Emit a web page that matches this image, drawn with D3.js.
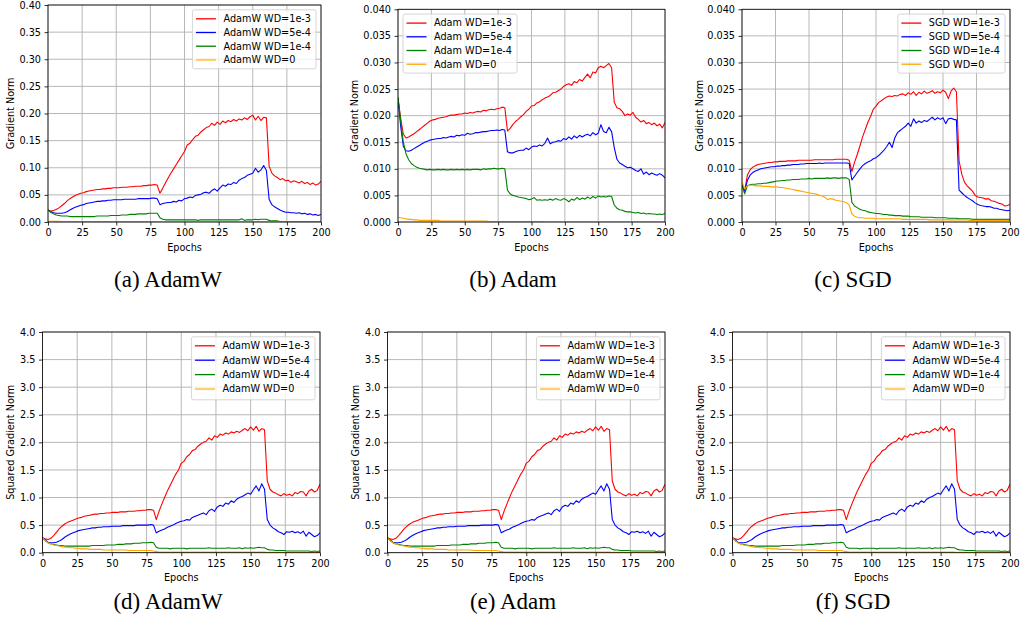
<!DOCTYPE html>
<html><head><meta charset="utf-8">
<script src="https://cdn.jsdelivr.net/npm/d3@7"></script>
<style>
body{margin:0;background:#fff;}
svg text{font-family:"DejaVu Sans",sans-serif;}
svg text.cap{font-family:"Liberation Serif","Times New Roman",serif;}
</style></head><body>
<svg id="chart" width="1021" height="628"></svg>
<script>
// ---------- categories / ticks ----------
const epochs = d3.range(0, 201, 2);
const xTicks = [0, 25, 50, 75, 100, 125, 150, 175, 200];
const gnTicksWide = [0, 0.05, 0.10, 0.15, 0.20, 0.25, 0.30, 0.35, 0.40];
const gnTicksFine = [0, 0.005, 0.010, 0.015, 0.020, 0.025, 0.030, 0.035, 0.040];
const sqTicks = [0, 0.5, 1.0, 1.5, 2.0, 2.5, 3.0, 3.5, 4.0];
const wdLabels = ["WD=1e-3", "WD=5e-4", "WD=1e-4", "WD=0"];
const seriesColors = ["red", "blue", "green", "orange"];
const captions = ["(a) AdamW", "(b) Adam", "(c) SGD", "(d) AdamW", "(e) Adam", "(f) SGD"];

// ---------- (a) AdamW gradient norm ----------
const adamwGN_1e3 = [0.022,0.020,0.021,0.023,0.026,0.030,0.034,0.039,0.043,0.046,
 0.049,0.051,0.053,0.054,0.056,0.057,0.058,0.059,0.060,0.060,
 0.061,0.061,0.062,0.062,0.063,0.063,0.063,0.064,0.064,0.064,
 0.065,0.065,0.066,0.066,0.066,0.067,0.067,0.068,0.068,0.069,
 0.068,0.053,0.062,0.072,0.081,0.090,0.098,0.106,0.114,0.122,
 0.130,0.142,0.145,0.152,0.158,0.160,0.166,0.170,0.174,0.176,
 0.182,0.178,0.184,0.180,0.186,0.183,0.187,0.185,0.189,0.186,
 0.190,0.188,0.192,0.189,0.194,0.197,0.188,0.195,0.187,0.193,
 0.192,0.103,0.090,0.085,0.082,0.078,0.080,0.076,0.077,0.073,
 0.076,0.074,0.072,0.075,0.071,0.073,0.069,0.072,0.068,0.070,
 0.075];
const adamwGN_5e4 = [0.022,0.019,0.017,0.016,0.016,0.016,0.017,0.019,0.022,0.025,
 0.027,0.029,0.031,0.032,0.034,0.035,0.036,0.037,0.038,0.038,
 0.039,0.039,0.040,0.040,0.041,0.041,0.041,0.041,0.042,0.042,
 0.042,0.042,0.042,0.043,0.043,0.043,0.043,0.043,0.044,0.044,
 0.043,0.032,0.034,0.035,0.036,0.036,0.038,0.037,0.040,0.039,
 0.043,0.044,0.046,0.045,0.049,0.050,0.051,0.054,0.055,0.053,
 0.058,0.061,0.057,0.063,0.068,0.066,0.070,0.069,0.073,0.071,
 0.077,0.080,0.082,0.086,0.088,0.090,0.099,0.092,0.096,0.104,
 0.095,0.042,0.032,0.028,0.025,0.022,0.020,0.018,0.018,0.017,
 0.017,0.016,0.017,0.015,0.016,0.014,0.015,0.013,0.014,0.012,
 0.014];
const adamwGN_1e4 = [0.022,0.018,0.015,0.013,0.012,0.011,0.011,0.011,0.010,0.010,
 0.010,0.010,0.010,0.010,0.010,0.010,0.010,0.010,0.011,0.011,
 0.011,0.011,0.011,0.012,0.012,0.012,0.012,0.013,0.013,0.013,
 0.014,0.014,0.014,0.015,0.015,0.015,0.015,0.016,0.016,0.016,
 0.016,0.008,0.005,0.004,0.004,0.004,0.004,0.004,0.004,0.004,
 0.004,0.004,0.004,0.004,0.004,0.003,0.004,0.004,0.004,0.004,
 0.004,0.004,0.004,0.004,0.004,0.004,0.004,0.004,0.004,0.004,
 0.004,0.006,0.003,0.004,0.004,0.004,0.005,0.004,0.005,0.005,
 0.005,0.003,0.002,0.002,0.002,0.001,0.001,0.001,0.001,0.001,
 0.001,0.001,0.001,0.001,0.001,0.001,0.001,0.001,0.001,0.001,
 0.001];
const adamwGN_0 = [0.0015,0.0014,0.0013,0.0012,0.0011,0.0010,0.0010,0.0009,0.0009,0.0009,
 0.0008,0.0008,0.0008,0.0008,0.0008,0.0008,0.0008,0.0008,0.0008,0.0008,
 0.0007,0.0007,0.0007,0.0007,0.0007,0.0007,0.0007,0.0007,0.0007,0.0007,
 0.0007,0.0007,0.0007,0.0007,0.0007,0.0007,0.0007,0.0007,0.0007,0.0007,
 0.0006,0.0005,0.0005,0.0005,0.0005,0.0005,0.0005,0.0005,0.0005,0.0005,
 0.0005,0.0005,0.0005,0.0005,0.0005,0.0005,0.0005,0.0005,0.0005,0.0005,
 0.0005,0.0005,0.0005,0.0005,0.0005,0.0005,0.0005,0.0005,0.0005,0.0005,
 0.0005,0.0005,0.0005,0.0005,0.0005,0.0005,0.0005,0.0005,0.0005,0.0005,
 0.0005,0.0004,0.0004,0.0004,0.0004,0.0004,0.0004,0.0004,0.0004,0.0004,
 0.0004,0.0004,0.0004,0.0004,0.0004,0.0004,0.0004,0.0004,0.0004,0.0004,
 0.0004];

// ---------- (b) Adam gradient norm ----------
const adamGN_1e3 = [0.0232,0.0195,0.0165,0.0158,0.0160,0.0163,0.0166,0.0170,0.0174,0.0178,
 0.0182,0.0186,0.0190,0.0192,0.0193,0.0195,0.0196,0.0197,0.0198,0.0200,
 0.0201,0.0201,0.0202,0.0203,0.0203,0.0205,0.0204,0.0206,0.0205,0.0207,
 0.0208,0.0207,0.0210,0.0209,0.0211,0.0212,0.0211,0.0213,0.0214,0.0216,
 0.0215,0.0171,0.0176,0.0183,0.0189,0.0193,0.0198,0.0202,0.0208,0.0212,
 0.0218,0.0219,0.0224,0.0226,0.0230,0.0233,0.0235,0.0238,0.0243,0.0244,
 0.0247,0.0250,0.0255,0.0258,0.0260,0.0257,0.0264,0.0262,0.0268,0.0265,
 0.0272,0.0278,0.0271,0.0282,0.0280,0.0290,0.0293,0.0290,0.0294,0.0298,
 0.0290,0.0225,0.0215,0.0213,0.0208,0.0200,0.0203,0.0201,0.0206,0.0197,
 0.0193,0.0188,0.0191,0.0185,0.0187,0.0183,0.0186,0.0181,0.0184,0.0177,
 0.0187];
const adamGN_5e4 = [0.0232,0.0180,0.0142,0.0134,0.0133,0.0135,0.0138,0.0141,0.0144,0.0147,
 0.0150,0.0152,0.0154,0.0155,0.0156,0.0157,0.0157,0.0159,0.0158,0.0160,
 0.0161,0.0160,0.0163,0.0162,0.0164,0.0163,0.0167,0.0165,0.0166,0.0168,
 0.0168,0.0169,0.0170,0.0170,0.0171,0.0172,0.0172,0.0173,0.0172,0.0174,
 0.0173,0.0132,0.0130,0.0130,0.0132,0.0134,0.0135,0.0135,0.0139,0.0136,
 0.0141,0.0143,0.0142,0.0145,0.0143,0.0148,0.0158,0.0147,0.0150,0.0151,
 0.0153,0.0152,0.0157,0.0155,0.0160,0.0156,0.0162,0.0158,0.0163,0.0160,
 0.0163,0.0165,0.0162,0.0168,0.0164,0.0167,0.0183,0.0170,0.0168,0.0178,
 0.0170,0.0140,0.0118,0.0111,0.0108,0.0105,0.0102,0.0103,0.0100,0.0097,
 0.0095,0.0100,0.0090,0.0094,0.0089,0.0092,0.0090,0.0088,0.0091,0.0088,
 0.0083];
const adamGN_1e4 = [0.0235,0.0190,0.0150,0.0128,0.0117,0.0110,0.0106,0.0103,0.0101,0.0100,
 0.0099,0.0098,0.0099,0.0098,0.0098,0.0099,0.0098,0.0099,0.0098,0.0098,
 0.0099,0.0098,0.0099,0.0098,0.0099,0.0098,0.0099,0.0098,0.0099,0.0099,
 0.0099,0.0098,0.0100,0.0099,0.0100,0.0100,0.0101,0.0100,0.0100,0.0101,
 0.0100,0.0060,0.0053,0.0050,0.0049,0.0047,0.0046,0.0045,0.0044,0.0042,
 0.0043,0.0046,0.0041,0.0042,0.0041,0.0042,0.0041,0.0043,0.0041,0.0044,
 0.0042,0.0041,0.0044,0.0042,0.0038,0.0043,0.0041,0.0046,0.0042,0.0045,
 0.0043,0.0047,0.0044,0.0048,0.0045,0.0049,0.0047,0.0048,0.0047,0.0049,
 0.0048,0.0032,0.0026,0.0023,0.0022,0.0020,0.0019,0.0019,0.0018,0.0017,
 0.0018,0.0016,0.0017,0.0015,0.0016,0.0015,0.0015,0.0014,0.0015,0.0014,
 0.0016];
const adamGN_0 = [0.0009,0.0008,0.0007,0.0006,0.0005,0.0005,0.0004,0.0004,0.0003,0.0003,
 0.0003,0.0003,0.0003,0.0003,0.0003,0.0003,0.0002,0.0002,0.0002,0.0002,
 0.0002,0.0002,0.0002,0.0002,0.0002,0.0002,0.0002,0.0002,0.0002,0.0002,
 0.0002,0.0002,0.0002,0.0002,0.0001,0.0001,0.0001,0.0001,0.0001,0.0001,
 0.0001,0.0001,0.0001,0.0001,0.0001,0.0001,0.0001,0.0001,0.0001,0.0001,
 0.0001,0.0001,0.0001,0.0001,0.0001,0.0000,0.0000,0.0000,0.0000,0.0000,
 0.0000,0.0000,0.0000,0.0000,0.0000,0.0000,0.0000,0.0000,0.0000,0.0000,
 0.0000,0.0000,0.0000,0.0000,0.0000,0.0000,0.0000,0.0000,0.0000,0.0000,
 0.0000,0.0000,0.0000,0.0000,0.0000,0.0000,0.0000,0.0000,0.0000,0.0000,
 0.0000,0.0000,0.0000,0.0000,0.0000,0.0000,0.0000,0.0000,0.0000,0.0000,
 0.0000];

// ---------- (c) SGD gradient norm ----------
const sgdGN_1e3 = [0.0070,0.0058,0.0088,0.0098,0.0103,0.0106,0.0108,0.0109,0.0110,0.0111,
 0.0112,0.0112,0.0113,0.0113,0.0114,0.0114,0.0114,0.0115,0.0115,0.0115,
 0.0115,0.0116,0.0116,0.0116,0.0116,0.0116,0.0116,0.0117,0.0117,0.0117,
 0.0117,0.0117,0.0117,0.0117,0.0117,0.0118,0.0118,0.0118,0.0118,0.0118,
 0.0116,0.0095,0.0112,0.0127,0.0143,0.0160,0.0174,0.0188,0.0199,0.0212,
 0.0218,0.0225,0.0228,0.0232,0.0235,0.0237,0.0236,0.0238,0.0237,0.0240,
 0.0241,0.0238,0.0243,0.0240,0.0245,0.0238,0.0244,0.0241,0.0246,0.0242,
 0.0244,0.0247,0.0242,0.0245,0.0243,0.0248,0.0244,0.0232,0.0246,0.0252,
 0.0245,0.0115,0.0090,0.0075,0.0068,0.0063,0.0058,0.0050,0.0047,0.0046,
 0.0045,0.0043,0.0044,0.0040,0.0039,0.0037,0.0035,0.0034,0.0030,0.0031,
 0.0033];
const sgdGN_5e4 = [0.0070,0.0058,0.0078,0.0088,0.0093,0.0096,0.0098,0.0100,0.0101,0.0102,
 0.0103,0.0104,0.0104,0.0105,0.0105,0.0106,0.0106,0.0107,0.0107,0.0108,
 0.0108,0.0108,0.0109,0.0109,0.0110,0.0110,0.0110,0.0110,0.0110,0.0111,
 0.0110,0.0111,0.0111,0.0111,0.0111,0.0111,0.0111,0.0111,0.0111,0.0111,
 0.0110,0.0079,0.0086,0.0093,0.0100,0.0106,0.0110,0.0113,0.0115,0.0119,
 0.0121,0.0125,0.0130,0.0135,0.0142,0.0150,0.0140,0.0158,0.0168,0.0172,
 0.0176,0.0180,0.0186,0.0180,0.0194,0.0186,0.0190,0.0187,0.0191,0.0189,
 0.0193,0.0197,0.0192,0.0196,0.0193,0.0196,0.0185,0.0194,0.0195,0.0193,
 0.0192,0.0060,0.0055,0.0050,0.0046,0.0043,0.0040,0.0036,0.0033,0.0031,
 0.0030,0.0029,0.0029,0.0028,0.0026,0.0026,0.0024,0.0023,0.0022,0.0021,
 0.0022];
const sgdGN_1e4 = [0.0068,0.0053,0.0068,0.0070,0.0071,0.0071,0.0072,0.0072,0.0073,0.0073,
 0.0074,0.0075,0.0076,0.0077,0.0077,0.0078,0.0078,0.0079,0.0079,0.0080,
 0.0080,0.0080,0.0081,0.0081,0.0081,0.0082,0.0081,0.0082,0.0082,0.0082,
 0.0082,0.0082,0.0083,0.0082,0.0083,0.0083,0.0082,0.0083,0.0083,0.0083,
 0.0080,0.0037,0.0030,0.0027,0.0024,0.0022,0.0021,0.0019,0.0018,0.0017,
 0.0016,0.0016,0.0015,0.0014,0.0014,0.0013,0.0013,0.0012,0.0012,0.0012,
 0.0011,0.0011,0.0011,0.0010,0.0010,0.0010,0.0010,0.0009,0.0009,0.0009,
 0.0009,0.0009,0.0008,0.0008,0.0008,0.0008,0.0008,0.0007,0.0007,0.0007,
 0.0007,0.0006,0.0006,0.0006,0.0006,0.0006,0.0005,0.0005,0.0005,0.0005,
 0.0005,0.0005,0.0005,0.0005,0.0005,0.0005,0.0005,0.0005,0.0005,0.0005,
 0.0005];
const sgdGN_0 = [0.0075,0.0062,0.0068,0.0069,0.0069,0.0068,0.0068,0.0068,0.0067,0.0067,
 0.0067,0.0066,0.0066,0.0066,0.0065,0.0065,0.0064,0.0063,0.0062,0.0061,
 0.0060,0.0059,0.0058,0.0057,0.0056,0.0055,0.0054,0.0053,0.0052,0.0050,
 0.0049,0.0046,0.0042,0.0044,0.0043,0.0041,0.0040,0.0039,0.0038,0.0036,
 0.0032,0.0015,0.0011,0.0009,0.0008,0.0008,0.0007,0.0007,0.0007,0.0007,
 0.0006,0.0006,0.0006,0.0006,0.0006,0.0006,0.0006,0.0006,0.0006,0.0006,
 0.0005,0.0005,0.0005,0.0005,0.0005,0.0005,0.0005,0.0005,0.0005,0.0005,
 0.0004,0.0004,0.0004,0.0004,0.0004,0.0004,0.0004,0.0004,0.0004,0.0004,
 0.0004,0.0004,0.0004,0.0004,0.0004,0.0003,0.0003,0.0003,0.0003,0.0003,
 0.0003,0.0003,0.0003,0.0003,0.0003,0.0003,0.0003,0.0003,0.0003,0.0003,
 0.0003];

// ---------- (d)-(f) squared gradient norm ----------
const sqGN_1e3 = [0.27,0.25,0.24,0.26,0.31,0.37,0.43,0.48,0.52,0.55,
 0.57,0.59,0.61,0.63,0.64,0.66,0.67,0.68,0.69,0.70,
 0.70,0.71,0.71,0.72,0.72,0.73,0.73,0.73,0.74,0.74,
 0.74,0.75,0.75,0.75,0.76,0.76,0.77,0.77,0.78,0.78,
 0.77,0.60,0.75,0.88,1.00,1.12,1.22,1.32,1.42,1.50,
 1.62,1.66,1.74,1.78,1.85,1.87,1.93,1.97,2.00,2.02,
 2.08,2.04,2.12,2.09,2.15,2.13,2.17,2.15,2.19,2.17,
 2.20,2.18,2.22,2.25,2.21,2.28,2.22,2.29,2.20,2.25,
 2.23,1.30,1.15,1.10,1.08,1.05,1.03,1.07,1.04,1.06,
 1.03,1.09,1.07,1.11,1.10,1.03,1.12,1.15,1.10,1.13,
 1.24];
const sqGN_5e4 = [0.27,0.23,0.19,0.18,0.18,0.19,0.21,0.24,0.28,0.31,
 0.34,0.36,0.38,0.40,0.41,0.42,0.43,0.44,0.45,0.45,
 0.46,0.46,0.47,0.47,0.47,0.48,0.48,0.48,0.48,0.49,
 0.49,0.49,0.49,0.49,0.50,0.50,0.50,0.50,0.50,0.51,
 0.50,0.36,0.39,0.41,0.43,0.46,0.48,0.50,0.53,0.55,
 0.57,0.58,0.60,0.59,0.64,0.66,0.68,0.70,0.72,0.69,
 0.76,0.79,0.75,0.83,0.86,0.84,0.90,0.88,0.94,0.91,
 0.97,1.00,1.02,1.05,1.08,1.06,1.14,1.21,1.12,1.25,
 1.15,0.60,0.50,0.45,0.42,0.38,0.36,0.33,0.38,0.37,
 0.39,0.36,0.38,0.35,0.39,0.30,0.37,0.33,0.29,0.31,
 0.36];
const sqGN_1e4 = [0.27,0.22,0.18,0.16,0.15,0.14,0.13,0.13,0.12,0.12,
 0.12,0.12,0.12,0.12,0.12,0.12,0.12,0.12,0.13,0.13,
 0.13,0.13,0.13,0.14,0.14,0.14,0.14,0.15,0.15,0.15,
 0.16,0.16,0.16,0.17,0.17,0.17,0.18,0.18,0.18,0.19,
 0.18,0.10,0.08,0.08,0.08,0.08,0.07,0.08,0.08,0.08,
 0.08,0.08,0.07,0.08,0.08,0.08,0.08,0.08,0.08,0.08,
 0.09,0.08,0.08,0.08,0.08,0.08,0.08,0.09,0.08,0.08,
 0.08,0.09,0.07,0.09,0.08,0.09,0.08,0.09,0.10,0.09,
 0.09,0.06,0.05,0.05,0.04,0.04,0.04,0.04,0.03,0.03,
 0.03,0.03,0.03,0.03,0.03,0.03,0.03,0.02,0.03,0.02,
 0.03];
const sqGN_0 = [0.27,0.22,0.18,0.16,0.14,0.13,0.12,0.11,0.10,0.10,
 0.09,0.09,0.08,0.08,0.07,0.07,0.07,0.06,0.06,0.06,
 0.06,0.06,0.05,0.05,0.05,0.05,0.05,0.05,0.05,0.05,
 0.05,0.04,0.04,0.04,0.04,0.04,0.04,0.04,0.04,0.04,
 0.03,0.02,0.01,0.01,0.01,0.01,0.01,0.01,0.01,0.01,
 0.01,0.01,0.01,0.01,0.01,0.01,0.01,0.01,0.01,0.01,
 0.01,0.01,0.01,0.01,0.01,0.01,0.01,0.01,0.01,0.01,
 0.01,0.01,0.01,0.01,0.01,0.01,0.01,0.01,0.01,0.01,
 0.01,0.005,0.005,0.005,0.005,0.005,0.005,0.005,0.005,0.005,
 0.005,0.005,0.005,0.005,0.005,0.005,0.005,0.005,0.005,0.005,
 0.005];

// ---------- panel layout ----------
const panels = [
  {series:[adamwGN_1e3,adamwGN_5e4,adamwGN_1e4,adamwGN_0], prefix:"AdamW", ymax:0.40, ticks:gnTicksWide, fmt:".2f",
   ylabel:"Gradient Norm", cap:captions[0], l:48, r:321, t:5, b:222, ylOff:37, legendSide:"right", step:13.7, lh:59, faded:true, capX:168, capY:287},
  {series:[adamGN_1e3,adamGN_5e4,adamGN_1e4,adamGN_0], prefix:"Adam", ymax:0.040, ticks:gnTicksFine, fmt:".3f",
   ylabel:"Gradient Norm", cap:captions[1], l:398, r:665, t:9.3, b:222, ylOff:43, legendSide:"left", step:13.7, lh:59, faded:false, capX:513, capY:287},
  {series:[sgdGN_1e3,sgdGN_5e4,sgdGN_1e4,sgdGN_0], prefix:"SGD", ymax:0.040, ticks:gnTicksFine, fmt:".3f",
   ylabel:"Gradient Norm", cap:captions[2], l:742, r:1010, t:9.3, b:222, ylOff:42, legendSide:"right", step:13.7, lh:59, faded:false, capX:853, capY:287},
  {series:[sqGN_1e3,sqGN_5e4,sqGN_1e4,sqGN_0], prefix:"AdamW", ymax:4.0, ticks:sqTicks, fmt:".1f",
   ylabel:"Squared Gradient Norm", cap:captions[3], l:42.5, r:320, t:332, b:552.7, ylOff:31.5, legendSide:"right", step:14.4, lh:63, faded:true, capX:168, capY:609},
  {series:[sqGN_1e3,sqGN_5e4,sqGN_1e4,sqGN_0], prefix:"AdamW", ymax:4.0, ticks:sqTicks, fmt:".1f",
   ylabel:"Squared Gradient Norm", cap:captions[4], l:387.5, r:665, t:332, b:552.7, ylOff:31.5, legendSide:"right", step:14.4, lh:63, faded:true, capX:513, capY:609},
  {series:[sqGN_1e3,sqGN_5e4,sqGN_1e4,sqGN_0], prefix:"AdamW", ymax:4.0, ticks:sqTicks, fmt:".1f",
   ylabel:"Squared Gradient Norm", cap:captions[5], l:732.5, r:1010, t:332, b:552.7, ylOff:31.5, legendSide:"right", step:14.4, lh:63, faded:true, capX:853, capY:609}
];

const svg = d3.select("#chart");
const FS = 9.7;

panels.forEach((p, pi) => {
  const g = svg.append("g");
  const x = d3.scaleLinear().domain([0, 200]).range([p.l, p.r]);
  const y = d3.scaleLinear().domain([0, p.ymax]).range([p.b, p.t]);

  // grid
  g.append("g").selectAll("line").data(xTicks).join("line")
    .attr("x1", d => x(d)).attr("x2", d => x(d)).attr("y1", p.t).attr("y2", p.b)
    .attr("stroke", "#b0b0b0").attr("stroke-width", 0.9);
  g.append("g").selectAll("line").data(p.ticks).join("line")
    .attr("y1", d => y(d)).attr("y2", d => y(d)).attr("x1", p.l).attr("x2", p.r)
    .attr("stroke", "#b0b0b0").attr("stroke-width", 0.9);

  // clip
  const cid = "clip" + pi;
  svg.append("clipPath").attr("id", cid).append("rect")
    .attr("x", p.l).attr("y", p.t - 1).attr("width", p.r - p.l).attr("height", p.b - p.t + 1);

  const line = d3.line().x((d, i) => x(epochs[i])).y(d => y(d));
  const lg = g.append("g").attr("clip-path", `url(#${cid})`);
  p.series.forEach((s, i) => {
    lg.append("path").datum(s).attr("d", line)
      .attr("fill", "none").attr("stroke", seriesColors[i]).attr("stroke-width", 1.1)
      .attr("stroke-linejoin", "round");
  });

  // axes
  const xAxis = d3.axisBottom(x).tickValues(xTicks).tickSize(3.5).tickPadding(3.5).tickFormat(d3.format("d"));
  const yAxis = d3.axisLeft(y).tickValues(p.ticks).tickSize(3.5).tickPadding(3.5).tickFormat(d3.format(p.fmt));
  const xa = g.append("g").attr("transform", `translate(0,${p.b})`).call(xAxis);
  const ya = g.append("g").attr("transform", `translate(${p.l},0)`).call(yAxis);
  [xa, ya].forEach(a => {
    a.select(".domain").remove();
    a.selectAll("line").attr("stroke", "#000").attr("stroke-width", 0.8);
    a.selectAll("text").attr("font-size", FS).attr("fill", "#000");
    a.attr("font-family", null).attr("font-size", null);
  });

  // frame
  g.append("rect").attr("x", p.l).attr("y", p.t).attr("width", p.r - p.l).attr("height", p.b - p.t)
    .attr("fill", "none").attr("stroke", "#000").attr("stroke-width", 0.8);

  // axis labels
  g.append("text").attr("x", (p.l + p.r) / 2).attr("y", p.b + 28.5).attr("text-anchor", "middle")
    .attr("font-size", FS).text("Epochs");
  g.append("text").attr("transform", `translate(${p.l - p.ylOff},${(p.t + p.b) / 2}) rotate(-90)`)
    .attr("text-anchor", "middle").attr("dy", "0.35em").attr("font-size", FS).text(p.ylabel);

  // legend
  const leg = g.append("g");
  const box = leg.append("rect").attr("rx", 2).attr("fill", "#fff").attr("fill-opacity", 0.8)
    .attr("stroke", "#cccccc").attr("stroke-width", 0.8);
  const labels = wdLabels.map(w => p.prefix + " " + w);
  const texts = labels.map((lab, i) => leg.append("text").attr("font-size", FS).attr("dy", "0.35em").text(lab));
  const tw = d3.max(texts, t => t.node().getComputedTextLength());
  const bw = tw + 31 + 5;
  const lx = p.legendSide === "right" ? p.r - 5 - bw : p.l + 5;
  const ly = p.t + 4.8;
  box.attr("x", lx).attr("y", ly).attr("width", bw).attr("height", p.lh);
  labels.forEach((lab, i) => {
    const yy = ly + 9 + p.step * i;
    const fadedOrange = p.faded && i === 3;
    leg.append("line").attr("x1", lx + 3.5).attr("x2", lx + 23.5).attr("y1", yy).attr("y2", yy)
      .attr("stroke", seriesColors[i]).attr("stroke-width", fadedOrange ? 2.2 : 1.3)
      .attr("stroke-opacity", fadedOrange ? 0.55 : 1);
    texts[i].attr("x", lx + 31).attr("y", yy);
  });

  // caption
  svg.append("text").attr("class", "cap").attr("x", p.capX).attr("y", p.capY).attr("text-anchor", "middle")
    .attr("font-size", 23).attr("fill", "#000").text(p.cap);
});
</script></body></html>
